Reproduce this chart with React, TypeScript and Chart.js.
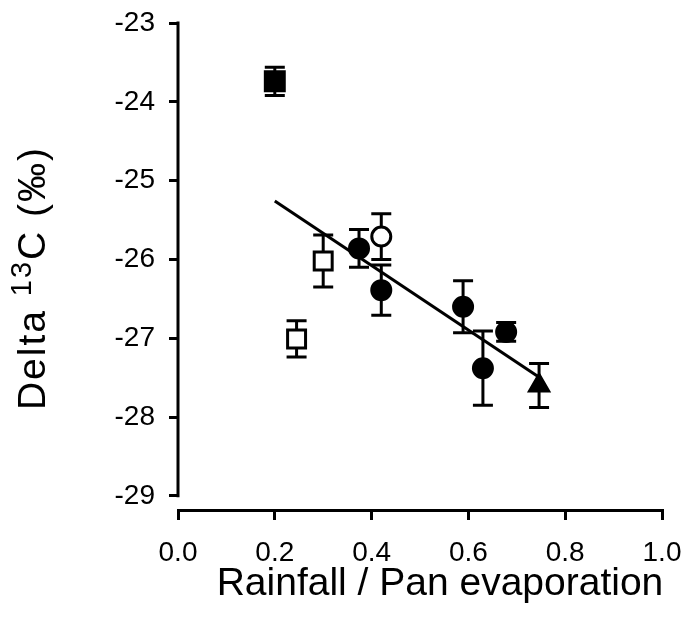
import React, { useEffect, useRef } from "react";
import { Chart, registerables } from "chart.js";

Chart.register(...registerables);

// ---- data ----
const xTicks = [0, 0.2, 0.4, 0.6, 0.8, 1.0];
const yTicks = [-29, -28, -27, -26, -25, -24, -23];

const filledCircleX = [0.374, 0.42, 0.589, 0.63, 0.678];
const filledCircleY = [-25.86, -26.39, -26.6, -27.38, -26.92];
const filledCircleErr = [0.24, 0.32, 0.33, 0.47, 0.12];

const openCircleX = [0.42];
const openCircleY = [-25.71];
const openCircleErr = [0.29];

const filledSquareX = [0.2];
const filledSquareY = [-23.74];
const filledSquareErr = [0.18];

const openSquareX = [0.3, 0.245];
const openSquareY = [-26.02, -27.01];
const openSquareErr = [0.33, 0.23];

const triangleX = [0.746];
const triangleY = [-27.6];
const triangleErr = [0.28];

const trendX = [0.2, 0.747];
const trendY = [-25.26, -27.5];

const xTitle = "Rainfall / Pan evaporation";
const yTitleMain = "Delta ";
const yTitleSup = "13";
const yTitleEnd = "C (\u2030)";

const FONT = "'Liberation Sans', Arial, Helvetica, sans-serif";

const pts = (xs: number[], ys: number[]) => xs.map((x, i) => ({ x, y: ys[i] }));

const errorBarPlugin = {
  id: "errorBars",
  beforeDatasetsDraw(chart: any) {
    const { ctx } = chart;
    const yScale = chart.scales.y;
    ctx.save();
    ctx.strokeStyle = "#000";
    ctx.lineWidth = 3;
    ctx.lineCap = "butt";
    chart.data.datasets.forEach((ds: any, di: number) => {
      if (!ds.errors) return;
      const meta = chart.getDatasetMeta(di);
      meta.data.forEach((el: any, i: number) => {
        const v = ds.data[i].y;
        const e = ds.errors[i];
        const px = el.x;
        const top = yScale.getPixelForValue(v + e);
        const bot = yScale.getPixelForValue(v - e);
        const half = 10;
        ctx.beginPath();
        ctx.moveTo(px, top);
        ctx.lineTo(px, bot);
        ctx.moveTo(px - half, top);
        ctx.lineTo(px + half, top);
        ctx.moveTo(px - half, bot);
        ctx.lineTo(px + half, bot);
        ctx.stroke();
      });
    });
    ctx.restore();
  },
};

const axesPlugin = {
  id: "axesTitles",
  afterDraw(chart: any) {
    const { ctx, chartArea } = chart;
    const yScale = chart.scales.y;
    ctx.save();
    // y spine from -23 to -29
    ctx.strokeStyle = "#000";
    ctx.lineWidth = 3;
    ctx.beginPath();
    ctx.moveTo(chartArea.left, yScale.getPixelForValue(yTicks[yTicks.length - 1]) - 1.5);
    ctx.lineTo(chartArea.left, yScale.getPixelForValue(yTicks[0]) + 1.5);
    ctx.stroke();

    ctx.fillStyle = "#000";
    // x title
    ctx.font = `39px ${FONT}`;
    ctx.textAlign = "center";
    ctx.textBaseline = "alphabetic";
    ctx.fillText(xTitle, 440, 595);

    // y title (rotated, with superscript)
    const F = 39;
    const S = 29;
    ctx.translate(45, 278);
    ctx.rotate(-Math.PI / 2);
    ctx.textAlign = "left";
    (ctx as any).letterSpacing = "2px";
    ctx.font = `${F}px ${FONT}`;
    const w1 = ctx.measureText(yTitleMain).width;
    const w3 = ctx.measureText(yTitleEnd).width;
    ctx.font = `${S}px ${FONT}`;
    const w2 = ctx.measureText(yTitleSup).width;
    let x = -(w1 + w2 + w3) / 2;
    ctx.font = `${F}px ${FONT}`;
    ctx.fillText(yTitleMain, x, 0);
    x += w1;
    ctx.font = `${S}px ${FONT}`;
    ctx.fillText(yTitleSup, x, -14);
    x += w2;
    ctx.font = `${F}px ${FONT}`;
    ctx.fillText(yTitleEnd, x, 0);
    ctx.restore();
  },
};

export default function App() {
  const ref = useRef<HTMLCanvasElement>(null);

  useEffect(() => {
    if (!ref.current) return;
    const chart = new Chart(ref.current, {
      type: "scatter",
      data: {
        datasets: [
          {
            label: "filled circles",
            data: pts(filledCircleX, filledCircleY),
            errors: filledCircleErr,
            pointStyle: "circle",
            pointRadius: 9.5,
            pointBackgroundColor: "#000",
            pointBorderColor: "#000",
            pointBorderWidth: 3,
          } as any,
          {
            label: "open circle",
            data: pts(openCircleX, openCircleY),
            errors: openCircleErr,
            pointStyle: "circle",
            pointRadius: 9.5,
            pointBackgroundColor: "#fff",
            pointBorderColor: "#000",
            pointBorderWidth: 3,
          } as any,
          {
            label: "filled square",
            data: pts(filledSquareX, filledSquareY),
            errors: filledSquareErr,
            pointStyle: "rect",
            pointRadius: 14.1,
            pointBackgroundColor: "#000",
            pointBorderColor: "#000",
            pointBorderWidth: 2,
          } as any,
          {
            label: "open squares",
            data: pts(openSquareX, openSquareY),
            errors: openSquareErr,
            pointStyle: "rect",
            pointRadius: 12.7,
            pointBackgroundColor: "#fff",
            pointBorderColor: "#000",
            pointBorderWidth: 3,
          } as any,
          {
            label: "triangle",
            data: pts(triangleX, triangleY),
            errors: triangleErr,
            pointStyle: "triangle",
            pointRadius: 12,
            pointBackgroundColor: "#000",
            pointBorderColor: "#000",
            pointBorderWidth: 2,
          } as any,
          {
            label: "trend",
            data: pts(trendX, trendY),
            showLine: true,
            borderColor: "#000",
            borderWidth: 3,
            pointRadius: 0,
            fill: false,
          } as any,
        ],
      },
      options: {
        responsive: false,
        maintainAspectRatio: false,
        devicePixelRatio: 1,
        animation: false,
        events: [],
        layout: { padding: { top: 23, right: 26, left: 0, bottom: 0 } },
        plugins: {
          legend: { display: false },
          tooltip: { enabled: false },
          title: { display: false },
        },
        scales: {
          x: {
            type: "linear",
            position: "bottom",
            min: xTicks[0],
            max: xTicks[xTicks.length - 1],
            afterBuildTicks: (s: any) => {
              s.ticks = xTicks.map((v) => ({ value: v }));
            },
            afterFit: (s: any) => {
              s.height = 128;
              s.paddingLeft = 0;
              s.paddingRight = 0;
              s.paddingTop = 0;
              s.paddingBottom = 0;
            },
            ticks: {
              callback: (v: any) => Number(v).toFixed(1),
              font: { family: FONT, size: 28 },
              color: "#000",
              padding: 16,
              maxRotation: 0,
              autoSkip: false,
            },
            grid: {
              drawOnChartArea: false,
              drawTicks: true,
              tickLength: 10,
              lineWidth: 3,
              color: "#000",
            },
            border: { display: true, width: 3, color: "#000" },
          },
          y: {
            type: "linear",
            position: "left",
            min: -29.18,
            max: yTicks[yTicks.length - 1],
            afterBuildTicks: (s: any) => {
              s.ticks = yTicks.map((v) => ({ value: v }));
            },
            afterFit: (s: any) => {
              s.width = 178;
              s.paddingLeft = 0;
              s.paddingRight = 0;
              s.paddingTop = 0;
              s.paddingBottom = 0;
            },
            ticks: {
              callback: (v: any) => String(v),
              font: { family: FONT, size: 28 },
              color: "#000",
              padding: 14,
              autoSkip: false,
            },
            grid: {
              drawOnChartArea: false,
              drawTicks: true,
              tickLength: 9,
              lineWidth: 3,
              color: "#000",
            },
            border: { display: false },
          },
        },
      } as any,
      plugins: [errorBarPlugin, axesPlugin],
    });
    return () => chart.destroy();
  }, []);

  return (
    <div style={{ position: "absolute", left: 0, top: 0, width: 688, height: 638, background: "#fff" }}>
      <canvas ref={ref} width={688} height={638} style={{ display: "block" }} />
    </div>
  );
}
